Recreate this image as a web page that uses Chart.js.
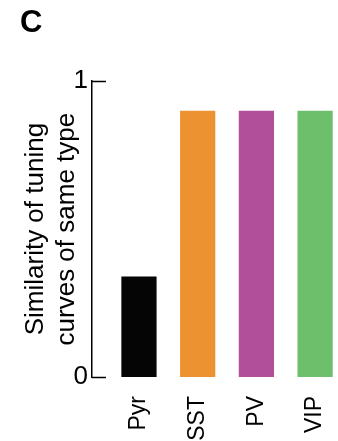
<!DOCTYPE html>
<html>
<head>
<meta charset="utf-8">
<script src="https://cdn.jsdelivr.net/npm/chart.js@4/dist/chart.umd.min.js"></script>
<style>
  html, body { margin: 0; padding: 0; background: #fff; overflow: hidden; }
  #wrap { width: 338px; height: 441px; }
</style>
</head>
<body>
<div id="wrap"><canvas id="grafico"></canvas></div>
<script>
const categorias = ['Pyr', 'SST', 'PV', 'VIP'];
const valores = [0.34, 0.90, 0.90, 0.90];
const cores = ['#050505', '#ED9230', '#B24F9B', '#6DBF6B'];
const ticksY = [0, 1];
const tituloY = ['Similarity of tuning', 'curves of same type'];

// tracinhos do eixo y virados para dentro (como na figura)
const marcasInternas = {
  id: 'marcasInternas',
  afterDraw(chart) {
    const ctx = chart.ctx;
    const y = chart.scales.y;
    const x0 = chart.chartArea.left;
    ctx.save();
    ctx.strokeStyle = '#000';
    ctx.lineWidth = 1.5;
    ticksY.forEach(v => {
      const py = Math.round(y.getPixelForValue(v)) + 0.5;
      ctx.beginPath();
      ctx.moveTo(x0, py);
      ctx.lineTo(x0 + 14, py);
      ctx.stroke();
    });
    ctx.restore();
  }
};

Chart.defaults.font.family = 'Liberation Sans, Arial, sans-serif';
Chart.defaults.color = '#000';

const ctx = document.getElementById('grafico').getContext('2d');
const grafico = new Chart(ctx, {
  type: 'bar',
  data: {
    datasets: [{
      data: valores.map((v, i) => ({ x: i, y: v })),
      backgroundColor: cores,
      borderWidth: 0,
      categoryPercentage: 0.6,
      barPercentage: 1.0,
    }]
  },
  options: {
    responsive: true,
    maintainAspectRatio: false,
    animation: false,
    layout: { padding: { left: 20, right: 0, top: 5, bottom: 0 } },
    plugins: {
      legend: { display: false },
      tooltip: { enabled: false },
      title: {
        display: true,
        text: 'C',
        align: 'start',
        font: { size: 31, weight: 'bold' },
        padding: { top: 0, bottom: 39 },
      },
    },
    scales: {
      x: {
        type: 'linear',
        offset: false,
        min: -0.8,
        max: 3.39,
        afterBuildTicks: s => { s.ticks = categorias.map((c, i) => ({ value: i })); },
        afterFit: s => { s.height = 64; s.paddingLeft = 0; s.paddingRight = 0; },
        ticks: {
          callback: v => categorias[v],
          maxRotation: 90,
          minRotation: 90,
          padding: 11,
          font: { size: 23 },
        },
        grid: { display: false },
        border: { display: false },
      },
      y: {
        min: 0,
        max: 1,
        afterBuildTicks: s => { s.ticks = ticksY.map(v => ({ value: v })); },
        afterFit: s => { s.width = 72; },
        ticks: { padding: 4, font: { size: 26 } },
        grid: { display: false, drawTicks: false },
        border: { display: true, color: '#000', width: 1.5 },
        title: {
          display: true,
          text: tituloY,
          align: 'center',
          font: { size: 26 },
          padding: { top: 0, bottom: 0 },
        },
      },
    },
  },
  plugins: [marcasInternas],
});
</script>
</body>
</html>
